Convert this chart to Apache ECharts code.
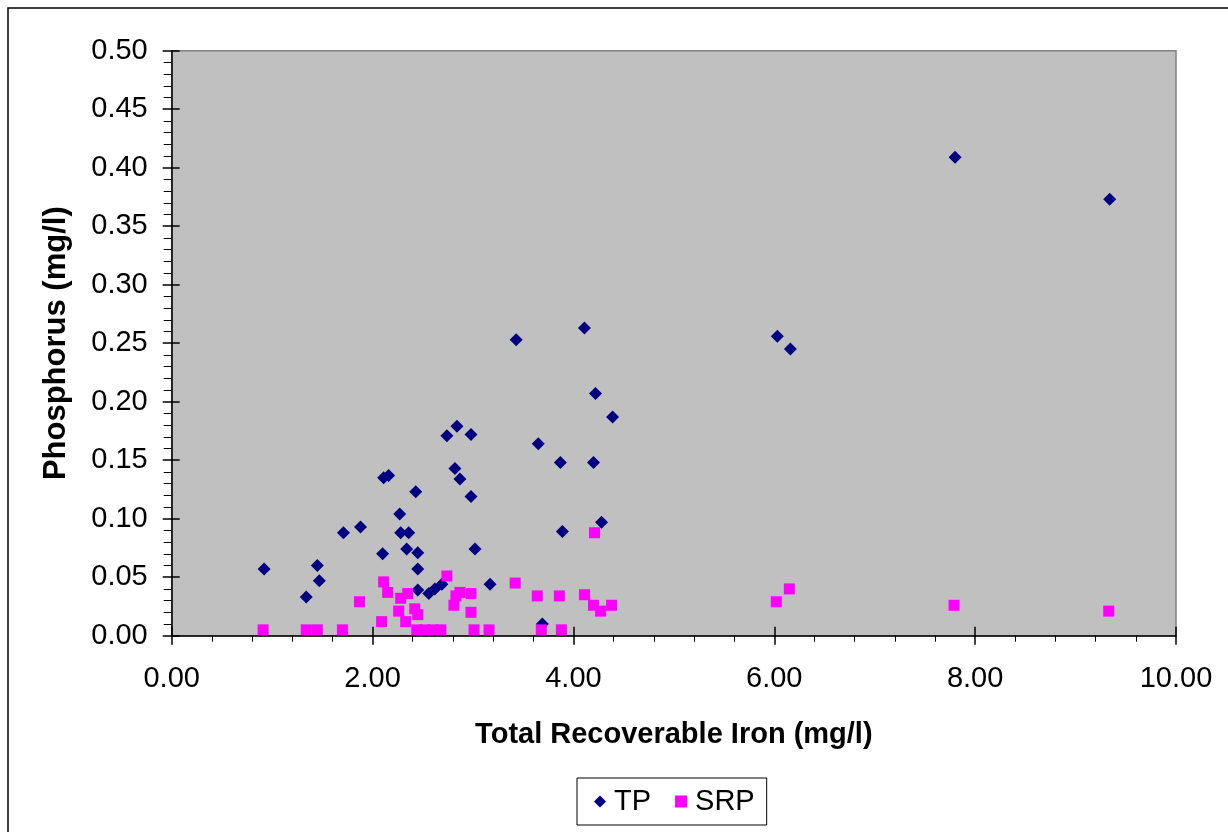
<!DOCTYPE html>
<html>
<head>
<meta charset="utf-8">
<script src="https://cdn.jsdelivr.net/npm/echarts@6/dist/echarts.min.js"></script>
<style>
html,body{margin:0;padding:0;background:#fff;}
#chart{width:1228px;height:832px;}
</style>
</head>
<body>
<div id="chart"></div>
<script>
// Total Recoverable Iron (mg/l) vs Phosphorus (mg/l)
const tpIron = [0.92,1.34,1.45,1.47,1.71,1.88,2.10,2.11,2.16,2.27,2.28,2.36,2.34,2.43,2.45,2.45,2.45,2.56,2.62,2.69,2.74,2.84,2.82,2.87,2.98,2.98,3.02,3.17,3.43,3.65,3.69,3.87,3.89,4.11,4.22,4.20,4.28,4.39,6.03,6.16,7.80,9.34];
const tpPhos = [0.057,0.033,0.060,0.047,0.088,0.093,0.070,0.135,0.137,0.104,0.088,0.088,0.074,0.123,0.071,0.057,0.039,0.036,0.040,0.044,0.171,0.179,0.143,0.134,0.172,0.119,0.074,0.044,0.253,0.164,0.010,0.148,0.089,0.263,0.207,0.148,0.097,0.187,0.256,0.245,0.409,0.373];
const srpIron = [0.91,1.34,1.45,1.70,2.44,2.52,2.60,2.68,3.01,3.16,3.68,3.88,1.87,2.09,2.11,2.15,2.26,2.28,2.33,2.35,2.42,2.45,2.74,2.81,2.83,2.87,2.98,2.98,3.42,3.64,3.86,4.11,4.20,4.27,4.38,4.21,6.02,6.15,7.79,9.33];
const srpPhos = [0.005,0.005,0.005,0.005,0.005,0.005,0.005,0.005,0.005,0.005,0.005,0.005,0.029,0.012,0.046,0.037,0.021,0.032,0.012,0.036,0.023,0.018,0.051,0.026,0.034,0.037,0.036,0.020,0.045,0.034,0.034,0.035,0.026,0.021,0.026,0.088,0.029,0.040,0.026,0.021];
const seriesNames = ['TP','SRP'];
const xTitle = 'Total Recoverable Iron (mg/l)';
const yTitle = 'Phosphorus (mg/l)';

const FONT = '"Liberation Sans", Arial, sans-serif';
const zip = (a,b) => a.map((v,i)=>[v,b[i]]);

const chart = echarts.init(document.getElementById('chart'), null, {renderer:'canvas'});
const lbl = {color:'#000', fontFamily:FONT, fontSize:29};
chart.setOption({
  animation:false,
  backgroundColor:'#fff',
  graphic:[{type:'rect', shape:{x:8,y:8,width:1300,height:900}, style:{fill:'none', stroke:'#000', lineWidth:1.5}, z:-1}],
  grid:{left:171.7, right:52, top:50.7, bottom:196.3, show:true, backgroundColor:'#C0C0C0', borderColor:'#808080', borderWidth:1.5},
  legend:{
    data:seriesNames, left:577, top:778, orient:'horizontal',
    padding:[9,12,9,17], itemGap:24, itemWidth:12, itemHeight:12,
    borderColor:'#000', borderWidth:1, backgroundColor:'#fff',
    textStyle:{color:'#000', fontFamily:FONT, fontSize:29, padding:[0,0,0,3]}
  },
  xAxis:[{
    type:'value', min:0, max:10, interval:2,
    name:xTitle, nameLocation:'middle', nameGap:85,
    nameTextStyle:{color:'#000', fontFamily:FONT, fontSize:29, fontWeight:'bold'},
    axisLine:{show:true, onZero:false, lineStyle:{color:'#000', width:1.5}},
    axisTick:{show:true, inside:false, length:9, lineStyle:{color:'#000', width:1.5}},
    minorTick:{show:true, splitNumber:5, length:6, lineStyle:{color:'#000', width:1}},
    splitLine:{show:false},
    axisLabel:Object.assign({margin:29, formatter:v=>v.toFixed(2)}, lbl)
  },{
    type:'value', min:0, max:10, interval:2, position:'bottom',
    axisLine:{show:false, onZero:false},
    axisTick:{show:true, inside:true, length:9, lineStyle:{color:'#000', width:1.5}},
    axisLabel:{show:false}, splitLine:{show:false}
  }],
  yAxis:[{
    type:'value', min:0, max:0.5, interval:0.05,
    name:yTitle, nameLocation:'middle', nameGap:100, nameRotate:90,
    nameTextStyle:{color:'#000', fontFamily:FONT, fontSize:31, fontWeight:'bold'},
    axisLine:{show:true, onZero:false, lineStyle:{color:'#000', width:1.5}},
    axisTick:{show:true, inside:false, length:9, lineStyle:{color:'#000', width:1.5}},
    minorTick:{show:true, splitNumber:5, length:8, lineStyle:{color:'#000', width:1}},
    splitLine:{show:false},
    axisLabel:Object.assign({margin:24, formatter:v=>v.toFixed(2)}, lbl)
  },{
    type:'value', min:0, max:0.5, interval:0.05, position:'left',
    axisLine:{show:false, onZero:false},
    axisTick:{show:true, inside:true, length:8, lineStyle:{color:'#000', width:1.5}},
    axisLabel:{show:false}, splitLine:{show:false}
  }],
  series:[
    {name:'TP', type:'scatter', symbol:'diamond', symbolSize:13, itemStyle:{color:'#000080', opacity:1}, data:zip(tpIron,tpPhos), z:3},
    {name:'SRP', type:'scatter', symbol:'rect', symbolSize:11, itemStyle:{color:'#FF00FF', opacity:1}, data:zip(srpIron,srpPhos), z:4}
  ]
});
</script>
</body>
</html>
